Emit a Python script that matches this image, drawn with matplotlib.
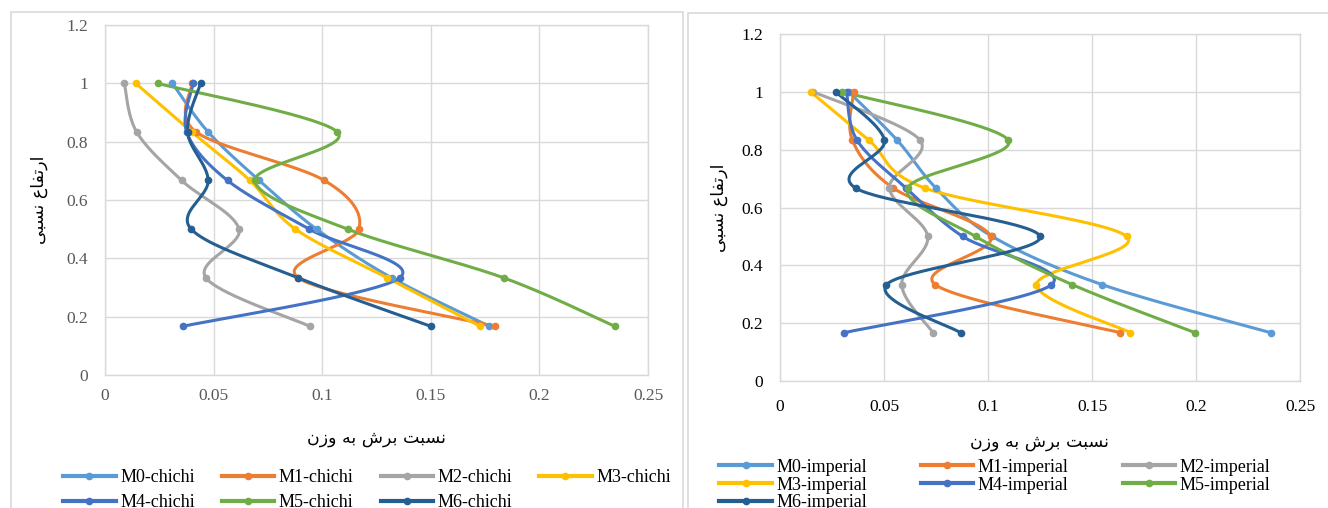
import numpy as np
import matplotlib
matplotlib.use("Agg")
import matplotlib.pyplot as plt
from matplotlib.patches import Rectangle
from matplotlib.ticker import FuncFormatter

# relative height levels (y) shared by all series
heights = [1.0, 0.833, 0.667, 0.5, 0.333, 0.167]

# shear-to-weight ratio, chichi records
m0_chichi = [0.031, 0.0475, 0.071, 0.0974, 0.132, 0.177]
m1_chichi = [0.040, 0.042, 0.101, 0.1169, 0.089, 0.1796]
m2_chichi = [0.0089, 0.0146, 0.0353, 0.0617, 0.0465, 0.0943]
m3_chichi = [0.0141, 0.040, 0.0667, 0.0877, 0.130, 0.1727]
m4_chichi = [0.0406, 0.0376, 0.0564, 0.094, 0.1356, 0.036]
m5_chichi = [0.0242, 0.107, 0.069, 0.1117, 0.1836, 0.2347]
m6_chichi = [0.044, 0.038, 0.0475, 0.0397, 0.089, 0.150]

# shear-to-weight ratio, imperial records
m0_imperial = [0.033, 0.0563, 0.075, 0.102, 0.155, 0.236]
m1_imperial = [0.0354, 0.0348, 0.0545, 0.1013, 0.0747, 0.1637]
m2_imperial = [0.016, 0.0673, 0.0526, 0.071, 0.0585, 0.0736]
m3_imperial = [0.0147, 0.0427, 0.0697, 0.1666, 0.1233, 0.1685]
m4_imperial = [0.032, 0.037, 0.0606, 0.0878, 0.1305, 0.0309]
m5_imperial = [0.030, 0.1097, 0.0614, 0.094, 0.1406, 0.1996]
m6_imperial = [0.0268, 0.0502, 0.0364, 0.125, 0.0512, 0.0868]

chichi_names = ["M0-chichi", "M1-chichi", "M2-chichi", "M3-chichi",
                "M4-chichi", "M5-chichi", "M6-chichi"]
imperial_names = ["M0-imperial", "M1-imperial", "M2-imperial", "M3-imperial",
                  "M4-imperial", "M5-imperial", "M6-imperial"]
chichi = [m0_chichi, m1_chichi, m2_chichi, m3_chichi, m4_chichi, m5_chichi, m6_chichi]
imperial = [m0_imperial, m1_imperial, m2_imperial, m3_imperial,
            m4_imperial, m5_imperial, m6_imperial]

colors = ["#5B9BD5", "#ED7D31", "#A5A5A5", "#FFC000", "#4472C4", "#70AD47", "#255E91"]

# Persian labels, pre-shaped (presentation forms, visual order)
ylabel_fa = "\ufef0\ufe92\ufeb4\ufee7 \ufec9\ufe8e\ufed4\ufe97\ufead\ufe8d"
xlabel_fa = ("\ufee5\ufeaf\ufeed \ufeea\ufe91 \ufeb5\ufeae\ufe91 "
             "\ufe96\ufe92\ufeb4\ufee7")

plt.rcParams["font.family"] = ["Liberation Serif", "DejaVu Sans"]


def smooth(xs, ys, n=40):
    # Excel-like smoothed line (Catmull-Rom bezier, parametric)
    p = np.column_stack([xs, ys])
    p = np.vstack([p[0], p, p[-1]])
    t = np.linspace(0, 1, n)[:, None]
    out = []
    for i in range(1, len(p) - 2):
        p0, p1, p2, p3 = p[i - 1], p[i], p[i + 1], p[i + 2]
        c1 = p1 + (p2 - p0) / 6
        c2 = p2 - (p3 - p1) / 6
        seg = (1 - t) ** 3 * p1 + 3 * (1 - t) ** 2 * t * c1 + 3 * (1 - t) * t ** 2 * c2 + t ** 3 * p2
        out.append(seg if i == 1 else seg[1:])
    out = np.vstack(out)
    return out[:, 0], out[:, 1]


W, H = 1328, 508
fig = plt.figure(figsize=(W / 100, H / 100), dpi=100)

# panel frames
fig.add_artist(Rectangle((11 / W, -0.1), (683 - 11) / W, 1.1 - 12 / H,
                         transform=fig.transFigure, fill=False, ec="#D9D9D9", lw=1.2))
fig.add_artist(Rectangle((688 / W, -0.1), 0.5, 1.1 - 13 / H,
                         transform=fig.transFigure, fill=False, ec="#D9D9D9", lw=1.2))

ax1 = fig.add_axes([105 / W, 1 - 375 / H, (648 - 105) / W, (375 - 25) / H])
ax2 = fig.add_axes([780 / W, 1 - 381 / H, (1300 - 780) / W, (381 - 34) / H])

fmt = FuncFormatter(lambda v, pos: "{:g}".format(round(v, 3)))


def draw(ax, data, names, order, tick_color, xpad, xlab_y, ylab_x,
         legend_anchor, ncol, lspacing, cspacing):
    for vals, c in zip(data, colors):
        sx, sy = smooth(vals, heights)
        ax.plot(sx, sy, color=c, lw=2.2, solid_capstyle="round", zorder=3)
        ax.plot(vals, heights, "o", color=c, ms=4.5, zorder=4)
    ax.set_xlim(0, 0.25)
    ax.set_ylim(0, 1.2)
    ax.set_xticks(np.arange(0, 0.2501, 0.05))
    ax.set_yticks(np.arange(0, 1.2001, 0.2))
    ax.xaxis.set_major_formatter(fmt)
    ax.yaxis.set_major_formatter(fmt)
    ax.grid(True, color="#D9D9D9", lw=1.0, zorder=0)
    ax.set_axisbelow(True)
    for s in ax.spines.values():
        s.set_color("#D9D9D9")
        s.set_linewidth(1.0)
    ax.tick_params(length=0, labelsize=12.5, colors=tick_color)
    ax.tick_params(axis="x", pad=xpad)
    ax.tick_params(axis="y", pad=12)
    ax.set_xlabel(xlabel_fa, family="DejaVu Sans", fontsize=12.5)
    ax.set_ylabel(ylabel_fa, family="DejaVu Sans", fontsize=12.5)
    ax.xaxis.set_label_coords(0.5, xlab_y)
    ax.yaxis.set_label_coords(ylab_x, 0.5)
    handles = {}
    for c, nm in zip(colors, names):
        handles[nm], = ax.plot([], [], color=c, lw=3, marker="o", ms=4.5, label=nm)
    hs = [handles[names[i]] for i in order]
    fig.legend(hs, [names[i] for i in order], loc="center",
               bbox_to_anchor=legend_anchor, ncol=ncol, frameon=False,
               fontsize=13, handlelength=2.9, handletextpad=0.25,
               columnspacing=cspacing, labelspacing=lspacing, numpoints=1,
               borderpad=0)


draw(ax1, chichi, chichi_names, [0, 4, 1, 5, 2, 6, 3], "#595959", 9,
     -0.155, -0.105, (367 / W, 1 - 490 / H), 4, 0.45, 1.5)
draw(ax2, imperial, imperial_names, [0, 3, 6, 1, 4, 2, 5], "black", 13,
     -0.15, -0.10, (995 / W, 1 - 485 / H), 3, 0.05, 3.0)

fig.savefig("out.png", dpi=100)
